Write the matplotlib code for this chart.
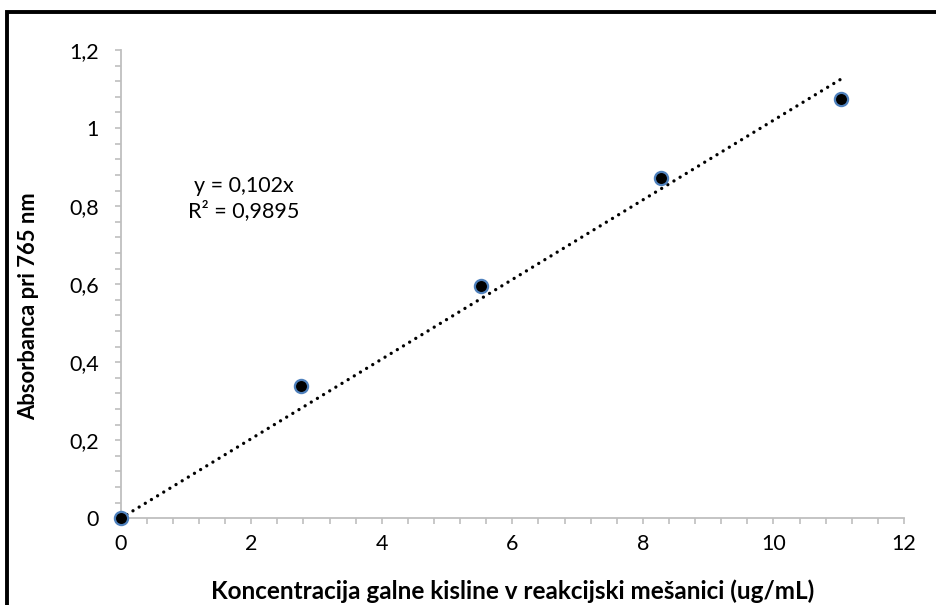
import matplotlib.pyplot as plt
from matplotlib.patches import Rectangle
from matplotlib.ticker import MultipleLocator, FuncFormatter

# concentration of gallic acid (ug/mL) and absorbance at 765 nm
conc = [0.0, 2.76, 5.52, 8.28, 11.04]
absorb = [0.0, 0.339, 0.596, 0.872, 1.075]
slope = 0.102
r2 = 0.9895

plt.rcParams['font.family'] = ['Lato', 'DejaVu Sans']

fig = plt.figure(figsize=(9.37, 6.05), dpi=100)
ax = fig.add_axes([0.1288, 0.1433, 0.836, 0.774])

# linear trend forced through origin
tx = [0.0, max(conc)]
ty = [slope * v for v in tx]
ax.plot(tx, ty, color='black', lw=2.4, dashes=(0.01, 2.15),
        dash_capstyle='round', zorder=2)

ax.plot(conc, absorb, 'o', ms=9.5, mfc='black', mec='#4f81bd', mew=1.6,
        ls='none', clip_on=False, zorder=3)

ax.set_xlim(0, 12)
ax.set_ylim(0, 1.2)
ax.xaxis.set_major_locator(MultipleLocator(2))
ax.xaxis.set_minor_locator(MultipleLocator(0.4))
ax.yaxis.set_major_locator(MultipleLocator(0.2))
ax.yaxis.set_minor_locator(MultipleLocator(0.04))


def comma(v, pos=None):
    return ('%g' % round(v, 4)).replace('.', ',')


ax.xaxis.set_major_formatter(FuncFormatter(comma))
ax.yaxis.set_major_formatter(FuncFormatter(comma))

for s in ('top', 'right'):
    ax.spines[s].set_visible(False)
for s in ('left', 'bottom'):
    ax.spines[s].set_color('#bfbfbf')
    ax.spines[s].set_linewidth(1.3)

ax.tick_params(which='both', direction='out', length=4.5, width=1.2,
               color='#bfbfbf', labelsize=15.5, labelcolor='black')
ax.tick_params(axis='x', pad=7)
ax.tick_params(axis='y', pad=11)

ax.set_xlabel('Koncentracija galne kisline v reakcijski mešanici (ug/mL)',
              fontsize=17.5, fontweight='bold', va='center')
ax.set_ylabel('Absorbanca pri 765 nm', fontsize=15.8, fontweight='bold',
              va='center')
ax.xaxis.set_label_coords(0.5, -0.155)
ax.yaxis.set_label_coords(-0.117, 0.453)

ax.text(1.88, 0.82, 'y = %sx\nR² = %s' % (comma(slope), comma(r2)),
        ha='center', va='center', fontsize=15.5, linespacing=1.25)

# chart frame
fig.patches.append(Rectangle((7.5 / 937, -0.1), 1.2, 1.1 - 11.5 / 605,
                             transform=fig.transFigure, fill=False,
                             ec='black', lw=2.8))

fig.savefig('out.png', dpi=100)
